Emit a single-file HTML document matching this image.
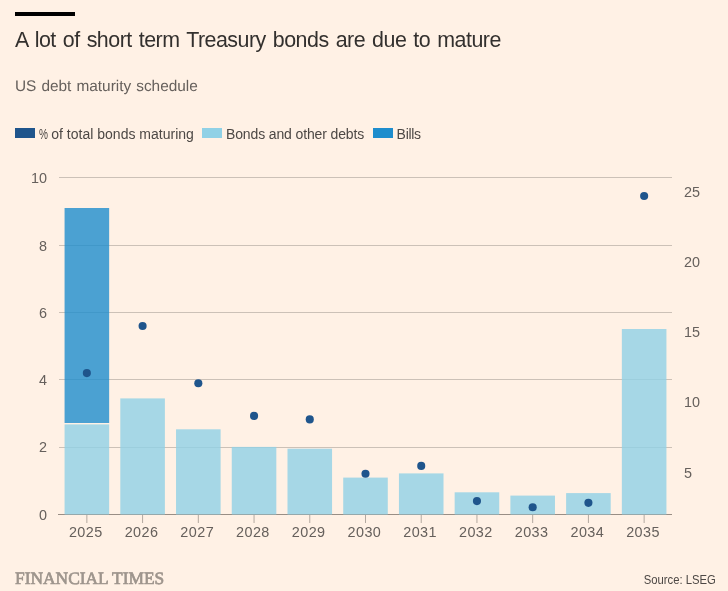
<!DOCTYPE html>
<html lang="en">
<head>
<meta charset="utf-8">
<title>A lot of short term Treasury bonds are due to mature</title>
<style>
html,body{margin:0;padding:0;background:#fff1e5;}
body{width:728px;height:591px;background:#fff1e5;position:relative;overflow:hidden;font-family:"Liberation Sans",sans-serif;}
.rule{position:absolute;left:15px;top:12px;width:60px;height:4px;background:#000;}
.title{position:absolute;left:15px;top:27px;font-size:21.4px;line-height:26px;letter-spacing:-0.5px;word-spacing:1.6px;color:#33302e;white-space:nowrap;margin:0;font-weight:400;}
.sub{position:absolute;left:15px;top:76.6px;font-size:15.4px;line-height:20px;letter-spacing:-0.02px;word-spacing:0.9px;text-rendering:geometricPrecision;color:#66605c;white-space:nowrap;margin:0;}
.legend{position:absolute;left:0;top:0;margin:0;padding:0;list-style:none;}
.legend li{position:absolute;top:125px;height:18px;line-height:18px;font-size:14px;color:#4d4845;white-space:nowrap;}
.legend i{position:absolute;left:0;top:3px;width:20px;height:10px;display:block;}
.legend span{position:absolute;left:23.5px;top:0;}
.legend .pc{display:inline-block;font-weight:400;transform:scaleX(0.72);transform-origin:0 50%;margin-right:-3.6px;letter-spacing:0;}
.chart{position:absolute;left:0;top:0;}
.chart .t{font-family:"Liberation Sans",sans-serif;font-size:14.4px;fill:#66605c;}
.ft{position:absolute;left:15px;top:568px;font-family:"Liberation Serif",serif;font-size:17.4px;line-height:20px;color:#9e958d;font-weight:400;-webkit-text-stroke:0.7px #9e958d;text-rendering:geometricPrecision;white-space:nowrap;transform:scaleX(1.0);transform-origin:0 0;}
.src{position:absolute;right:12.3px;top:571px;font-size:13.6px;line-height:18px;color:#4d4845;white-space:nowrap;transform:scaleX(0.83);transform-origin:100% 0;}
</style>
</head>
<body>
<div class="rule"></div>
<h1 class="title">A lot of short term Treasury bonds are due to mature</h1>
<p class="sub">US debt maturity schedule</p>
<svg class="chart" width="728" height="591" viewBox="0 0 728 591">
<line x1="59.0" x2="672.0" y1="447.50" y2="447.50" stroke="#ccc1b7" stroke-width="1"/>
<line x1="59.0" x2="672.0" y1="379.50" y2="379.50" stroke="#ccc1b7" stroke-width="1"/>
<line x1="59.0" x2="672.0" y1="312.50" y2="312.50" stroke="#ccc1b7" stroke-width="1"/>
<line x1="59.0" x2="672.0" y1="245.50" y2="245.50" stroke="#ccc1b7" stroke-width="1"/>
<line x1="59.0" x2="672.0" y1="177.50" y2="177.50" stroke="#ccc1b7" stroke-width="1"/>
<line x1="58.0" x2="672.0" y1="514.5" y2="514.5" stroke="#998e85" stroke-width="1"/>
<rect x="64.57" y="424.40" width="44.58" height="90.10" fill="#90d1e6" fill-opacity="0.8"/>
<rect x="120.30" y="398.40" width="44.58" height="116.10" fill="#90d1e6" fill-opacity="0.8"/>
<rect x="176.03" y="429.30" width="44.58" height="85.20" fill="#90d1e6" fill-opacity="0.8"/>
<rect x="231.75" y="446.90" width="44.58" height="67.60" fill="#90d1e6" fill-opacity="0.8"/>
<rect x="287.48" y="448.70" width="44.58" height="65.80" fill="#90d1e6" fill-opacity="0.8"/>
<rect x="343.21" y="477.60" width="44.58" height="36.90" fill="#90d1e6" fill-opacity="0.8"/>
<rect x="398.94" y="473.40" width="44.58" height="41.10" fill="#90d1e6" fill-opacity="0.8"/>
<rect x="454.66" y="492.30" width="44.58" height="22.20" fill="#90d1e6" fill-opacity="0.8"/>
<rect x="510.39" y="495.60" width="44.58" height="18.90" fill="#90d1e6" fill-opacity="0.8"/>
<rect x="566.12" y="493.10" width="44.58" height="21.40" fill="#90d1e6" fill-opacity="0.8"/>
<rect x="621.85" y="329.00" width="44.58" height="185.50" fill="#90d1e6" fill-opacity="0.8"/>
<rect x="64.57" y="208.00" width="44.58" height="215.00" fill="#1e8dcd" fill-opacity="0.8"/>
<line x1="86.86" x2="86.86" y1="515" y2="523" stroke="#b3a9a0" stroke-width="1"/>
<text x="85.76" y="537.2" text-anchor="middle" class="t" style="letter-spacing:0.42px">2025</text>
<line x1="142.59" x2="142.59" y1="515" y2="523" stroke="#b3a9a0" stroke-width="1"/>
<text x="141.49" y="537.2" text-anchor="middle" class="t" style="letter-spacing:0.42px">2026</text>
<line x1="198.32" x2="198.32" y1="515" y2="523" stroke="#b3a9a0" stroke-width="1"/>
<text x="197.22" y="537.2" text-anchor="middle" class="t" style="letter-spacing:0.42px">2027</text>
<line x1="254.05" x2="254.05" y1="515" y2="523" stroke="#b3a9a0" stroke-width="1"/>
<text x="252.95" y="537.2" text-anchor="middle" class="t" style="letter-spacing:0.42px">2028</text>
<line x1="309.77" x2="309.77" y1="515" y2="523" stroke="#b3a9a0" stroke-width="1"/>
<text x="308.67" y="537.2" text-anchor="middle" class="t" style="letter-spacing:0.42px">2029</text>
<line x1="365.50" x2="365.50" y1="515" y2="523" stroke="#b3a9a0" stroke-width="1"/>
<text x="364.40" y="537.2" text-anchor="middle" class="t" style="letter-spacing:0.42px">2030</text>
<line x1="421.23" x2="421.23" y1="515" y2="523" stroke="#b3a9a0" stroke-width="1"/>
<text x="420.13" y="537.2" text-anchor="middle" class="t" style="letter-spacing:0.42px">2031</text>
<line x1="476.95" x2="476.95" y1="515" y2="523" stroke="#b3a9a0" stroke-width="1"/>
<text x="475.85" y="537.2" text-anchor="middle" class="t" style="letter-spacing:0.42px">2032</text>
<line x1="532.68" x2="532.68" y1="515" y2="523" stroke="#b3a9a0" stroke-width="1"/>
<text x="531.58" y="537.2" text-anchor="middle" class="t" style="letter-spacing:0.42px">2033</text>
<line x1="588.41" x2="588.41" y1="515" y2="523" stroke="#b3a9a0" stroke-width="1"/>
<text x="587.31" y="537.2" text-anchor="middle" class="t" style="letter-spacing:0.42px">2034</text>
<line x1="644.14" x2="644.14" y1="515" y2="523" stroke="#b3a9a0" stroke-width="1"/>
<text x="643.04" y="537.2" text-anchor="middle" class="t" style="letter-spacing:0.42px">2035</text>
<circle cx="86.86" cy="373.1" r="4.05" fill="#1f558c"/>
<circle cx="142.59" cy="326.0" r="4.05" fill="#1f558c"/>
<circle cx="198.32" cy="383.3" r="4.05" fill="#1f558c"/>
<circle cx="254.05" cy="415.9" r="4.05" fill="#1f558c"/>
<circle cx="309.77" cy="419.4" r="4.05" fill="#1f558c"/>
<circle cx="365.5" cy="473.7" r="4.05" fill="#1f558c"/>
<circle cx="421.23" cy="465.9" r="4.05" fill="#1f558c"/>
<circle cx="476.95" cy="501.1" r="4.05" fill="#1f558c"/>
<circle cx="532.68" cy="507.25" r="4.05" fill="#1f558c"/>
<circle cx="588.41" cy="502.85" r="4.05" fill="#1f558c"/>
<circle cx="644.14" cy="196.0" r="4.05" fill="#1f558c"/>
<text x="47" y="520.10" text-anchor="end" class="t">0</text>
<text x="47" y="452.10" text-anchor="end" class="t">2</text>
<text x="47" y="385.10" text-anchor="end" class="t">4</text>
<text x="47" y="318.10" text-anchor="end" class="t">6</text>
<text x="47" y="251.10" text-anchor="end" class="t">8</text>
<text x="47" y="183.10" text-anchor="end" class="t">10</text>
<text x="684" y="477.70" text-anchor="start" class="t">5</text>
<text x="684" y="407.00" text-anchor="start" class="t">10</text>
<text x="684" y="336.80" text-anchor="start" class="t">15</text>
<text x="684" y="266.60" text-anchor="start" class="t">20</text>
<text x="684" y="196.50" text-anchor="start" class="t">25</text>
</svg>
<ul class="legend">
<li style="left:15px"><i style="background:#1f558c"></i><span style="letter-spacing:0.01px"><b class="pc">%</b> of total bonds maturing</span></li>
<li style="left:202px"><i style="background:#90d1e6"></i><span style="left:24px;letter-spacing:-0.133px">Bonds and other debts</span></li>
<li style="left:373px"><i style="background:#1e8dcd"></i><span style="left:23.6px;letter-spacing:-0.3px">Bills</span></li>
</ul>
<div class="ft">FINANCIAL TIMES</div>
<div class="src">Source: LSEG</div>
</body>
</html>
